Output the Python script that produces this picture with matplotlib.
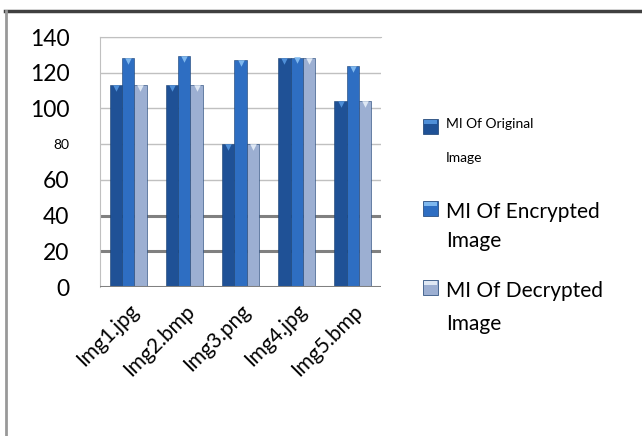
import numpy as np
import matplotlib
matplotlib.use("Agg")
import matplotlib.pyplot as plt
from matplotlib.lines import Line2D
from matplotlib.patches import Rectangle

plt.rcParams['font.family'] = ['Lato', 'DejaVu Sans']

images = ['Img1.jpg', 'Img2.bmp', 'Img3.png', 'Img4.jpg', 'Img5.bmp']
mi_original = [113, 113, 80, 128, 104]
mi_encrypted = [128, 129.5, 127, 128.5, 123.5]
mi_decrypted = [113, 113, 80, 128, 104]

series = [('MI Of Original', mi_original, '#1f5196', '#4f8fd8'),
          ('MI Of Encrypted', mi_encrypted, '#2e6ec2', '#7fb8ee'),
          ('MI Of Decrypted', mi_decrypted, '#9cafd2', '#dfe8f4')]

W, H = 642, 436
fig = plt.figure(figsize=(W / 100, H / 100), dpi=100)
ax = fig.add_axes([100 / W, 1 - 287 / H, 281 / W, 250 / H])

x = np.arange(len(images))
bw = 0.22
for i, (name, vals, col, tip) in enumerate(series):
    pos = x + (i - 1) * bw
    ax.bar(pos, vals, width=bw, color=col, edgecolor='#163d70', linewidth=0.4, zorder=3)
    ax.scatter(pos, np.array(vals) - 1.6, marker='v', s=22, color=tip, zorder=4, linewidths=0)

ax.set_xlim(-0.5, 4.5)
ax.set_ylim(0, 140)
ticks = [0, 20, 40, 60, 80, 100, 120, 140]
ax.set_yticks(ticks)
ax.set_yticklabels([str(t) for t in ticks])
for lab, t in zip(ax.get_yticklabels(), ticks):
    lab.set_fontsize(10 if t == 80 else 16.5)
ax.tick_params(axis='y', length=0, pad=22)
ax.set_xticks(x)
ax.set_xticklabels(images, rotation=45, ha='right', rotation_mode='anchor', fontsize=15)
ax.tick_params(axis='x', length=0, pad=10)

for t in ticks[1:]:
    if t in (20, 40):
        ax.axhline(t, color='#808080', lw=2.2, zorder=1)
    else:
        ax.axhline(t, color='#c0c0c0', lw=1, zorder=1)
ax.axhline(0, color='#808080', lw=2.2, zorder=5)

ax.spines['right'].set_visible(False)
ax.spines['bottom'].set_visible(False)
ax.spines['left'].set_color('#c0c0c0')
ax.spines['top'].set_color('#c0c0c0')

# outer frame
fig.add_artist(Line2D([5 / W, 1], [1 - 11 / H, 1 - 11 / H], color='#404040', lw=2.5))
fig.add_artist(Line2D([6 / W, 6 / W], [0, 1 - 11 / H], color='#999999', lw=2))

# legend
leg_items = [(119, [('MI Of Original', 128, 10), ('Image', 162, 10)]),
             (201, [('MI Of Encrypted', 218, 15), ('Image', 247, 15)]),
             (280, [('MI Of Decrypted', 297, 15), ('Image', 330, 15)])]
for (name, vals, col, tip), (ytop, lines) in zip(series, leg_items):
    fig.add_artist(Rectangle((423 / W, 1 - (ytop + 15) / H), 15 / W, 15 / H,
                             transform=fig.transFigure, facecolor=col,
                             edgecolor='#163d70', lw=0.5))
    fig.add_artist(Rectangle((424 / W, 1 - (ytop + 5) / H), 13 / W, 4 / H,
                             transform=fig.transFigure, facecolor=tip, lw=0))
    for txt, base, fs in lines:
        fig.text(446 / W, 1 - base / H, txt, fontsize=fs, va='baseline', ha='left')

fig.savefig('out.png', dpi=100)
